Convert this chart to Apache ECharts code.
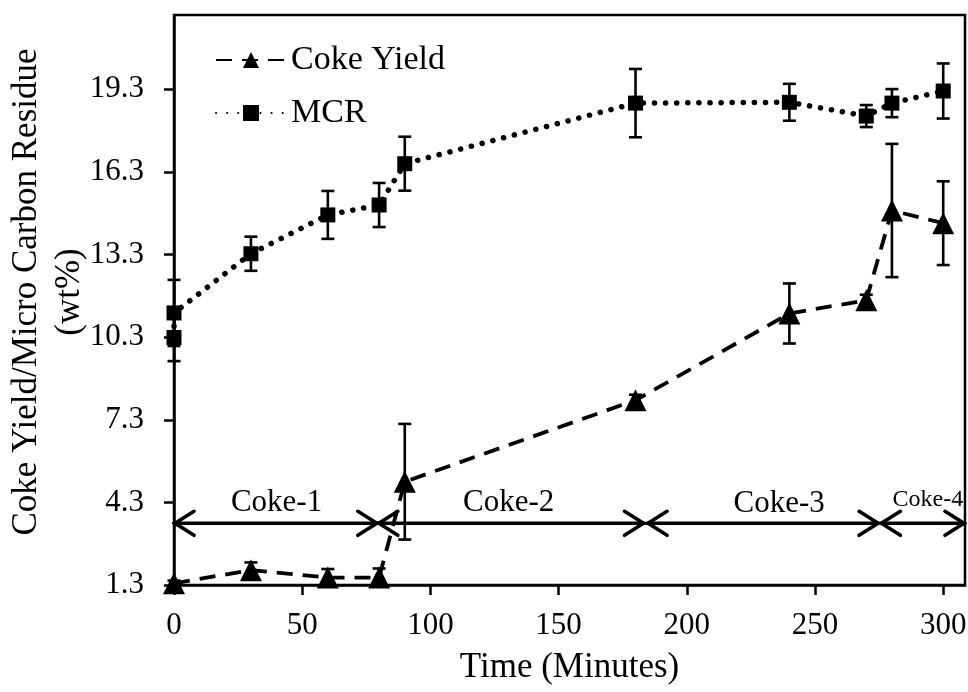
<!DOCTYPE html>
<html>
<head>
<meta charset="utf-8">
<script src="https://cdn.jsdelivr.net/npm/echarts@6/dist/echarts.min.js"></script>
<style>html,body{margin:0;padding:0;background:#fff}#c{width:968px;height:692px}</style>
</head>
<body>
<div id="c"></div>
<script>
// ---- data ----
const cokeTime  = [0, 30, 60, 80, 90, 180, 240, 270, 280, 300];
const cokeYield = [1.36, 1.84, 1.57, 1.57, 5.05, 8.01, 11.16, 11.64, 14.9, 14.44];
const cokeErr   = [0.1, 0.28, 0.31, 0.33, 2.1, 0.2, 1.09, 0.2, 2.42, 1.52];

const mcrTime = [0, 0, 30, 60, 80, 90, 180, 240, 270, 280, 300];
const mcrVal  = [10.29, 11.18, 13.33, 14.74, 15.1, 16.6, 18.8, 18.83, 18.33, 18.8, 19.24];
const mcrErr  = [0.86, 1.2, 0.62, 0.87, 0.8, 0.98, 1.24, 0.67, 0.4, 0.51, 1.0];

const xTicks = [0, 50, 100, 150, 200, 250, 300];
const yTicks = [1.3, 4.3, 7.3, 10.3, 13.3, 16.3, 19.3];

const segLabels  = ['Coke-1', 'Coke-2', 'Coke-3', 'Coke-4'];
const segStart   = [0, 79.5, 184.5, 275.5];
const segEnd     = [79.5, 183.5, 275, 308.5];
const segLabelX  = [40, 130.5, 236, 294];
const segLevel   = 3.54;
const segTextLevel = [4.3, 4.3, 4.25, 4.38];

// ---- chart ----
const FONT = 'Liberation Serif';
const chart = echarts.init(document.getElementById('c'), null, {renderer: 'canvas'});

const cokeData = cokeTime.map((t, i) => [t, cokeYield[i]]);
const mcrData = mcrTime.map((t, i) => [t, mcrVal[i]]);
const cokeErrData = cokeTime.map((t, i) => [t, cokeYield[i], cokeErr[i]]);
const mcrErrData = mcrTime.map((t, i) => [t, mcrVal[i], mcrErr[i]]);
const segData = segLabels.map((l, i) => [segStart[i], segEnd[i], segLabelX[i], segLevel, segTextLevel[i]]);

function renderErr(params, api) {
  const x = api.value(0), y = api.value(1), e = api.value(2);
  const top = api.coord([x, y + e]);
  const bot = api.coord([x, y - e]);
  const hw = 6.5;
  const st = {stroke: '#000', lineWidth: 2.6};
  return {
    type: 'group',
    children: [
      {type: 'line', shape: {x1: top[0], y1: top[1], x2: bot[0], y2: bot[1]}, style: st},
      {type: 'line', shape: {x1: top[0] - hw, y1: top[1], x2: top[0] + hw, y2: top[1]}, style: st},
      {type: 'line', shape: {x1: bot[0] - hw, y1: bot[1], x2: bot[0] + hw, y2: bot[1]}, style: st}
    ]
  };
}

function renderSeg(params, api) {
  const i = params.dataIndex;
  const a = api.coord([api.value(0), api.value(3)]);
  const b = api.coord([api.value(1), api.value(3)]);
  const t = api.coord([api.value(2), api.value(4)]);
  const L = 20, H = 12;
  const st = {stroke: '#000', lineWidth: 3.6, lineCap: 'round', lineJoin: 'miter'};
  return {
    type: 'group',
    children: [
      {type: 'line', shape: {x1: a[0], y1: a[1], x2: b[0], y2: b[1]}, style: st},
      {type: 'polyline', shape: {points: [[a[0] + L, a[1] - H], [a[0] + 1, a[1]], [a[0] + L, a[1] + H]]}, style: Object.assign({fill: null}, st)},
      {type: 'polyline', shape: {points: [[b[0] - L, b[1] - H], [b[0] - 1, b[1]], [b[0] - L, b[1] + H]]}, style: Object.assign({fill: null}, st)},
      {type: 'text', x: t[0], y: t[1], style: {
        text: segLabels[i], fill: '#000', fontFamily: FONT,
        fontSize: i === 3 ? 24 : 31, align: 'center', verticalAlign: 'middle'
      }}
    ]
  };
}

chart.setOption({
  animation: false,
  backgroundColor: '#fff',
  grid: {left: 174, top: 15, right: 3, bottom: 107, show: true, borderColor: '#000', borderWidth: 2.5,
         backgroundColor: 'transparent', containLabel: false, outerBoundsMode: 'none'},
  legend: {
    orient: 'vertical', left: 210, top: 38, itemWidth: 70, itemHeight: 20, itemGap: 19,
    data: ['Coke Yield', 'MCR'],
    textStyle: {fontFamily: FONT, fontSize: 34, color: '#000'}
  },
  xAxis: {
    type: 'value', min: 0, max: 308.5, interval: 50,
    name: 'Time (Minutes)', nameLocation: 'middle', nameGap: 65, nameMoveOverlap: false,
    nameTextStyle: {fontFamily: FONT, fontSize: 35, color: '#000'},
    axisLine: {show: true, lineStyle: {color: '#000', width: 2.5}},
    axisTick: {show: true, inside: false, length: 10, lineStyle: {color: '#000', width: 2.5}, customValues: xTicks},
    axisLabel: {fontFamily: FONT, fontSize: 31, color: '#000', margin: 25, customValues: xTicks},
    splitLine: {show: false}
  },
  yAxis: {
    type: 'value', min: 1.3, max: 22,
    name: 'Coke Yield/Micro Carbon Residue\n(wt%)', nameLocation: 'middle', nameGap: 83, nameMoveOverlap: false,
    nameTextStyle: {fontFamily: FONT, fontSize: 35, lineHeight: 43, color: '#000', padding: [0, 0, 0, 16]},
    axisLine: {show: true, lineStyle: {color: '#000', width: 2.5}},
    axisTick: {show: true, inside: false, length: 10, lineStyle: {color: '#000', width: 2.5}, customValues: yTicks},
    axisLabel: {fontFamily: FONT, fontSize: 31, color: '#000', margin: 30, customValues: yTicks, formatter: v => v.toFixed(1)},
    splitLine: {show: false}
  },
  series: [
    {
      type: 'custom', name: 'cokeErr', renderItem: renderErr, data: cokeErrData,
      encode: {x: 0, y: 1}, z: 3, silent: true, clip: false
    },
    {
      type: 'custom', name: 'mcrErr', renderItem: renderErr, data: mcrErrData,
      encode: {x: 0, y: 1}, z: 3, silent: true, clip: false
    },
    {
      type: 'line', name: 'Coke Yield', data: cokeData,
      symbol: 'triangle', symbolSize: 22,
      lineStyle: {color: '#000', width: 3.8, type: [16, 10]},
      itemStyle: {color: '#000'}, z: 4, clip: false
    },
    {
      type: 'line', name: 'MCR', data: mcrData,
      symbol: 'rect', symbolSize: 15,
      lineStyle: {color: '#000', width: 5.5, type: [0.1, 11], cap: 'round'},
      itemStyle: {color: '#000'}, z: 4, clip: false
    },
    {
      type: 'custom', name: 'segments', renderItem: renderSeg, data: segData,
      encode: {x: [0, 1, 2], y: [3, 4]}, z: 5, silent: true, clip: false
    }
  ]
});
</script>
</body>
</html>
